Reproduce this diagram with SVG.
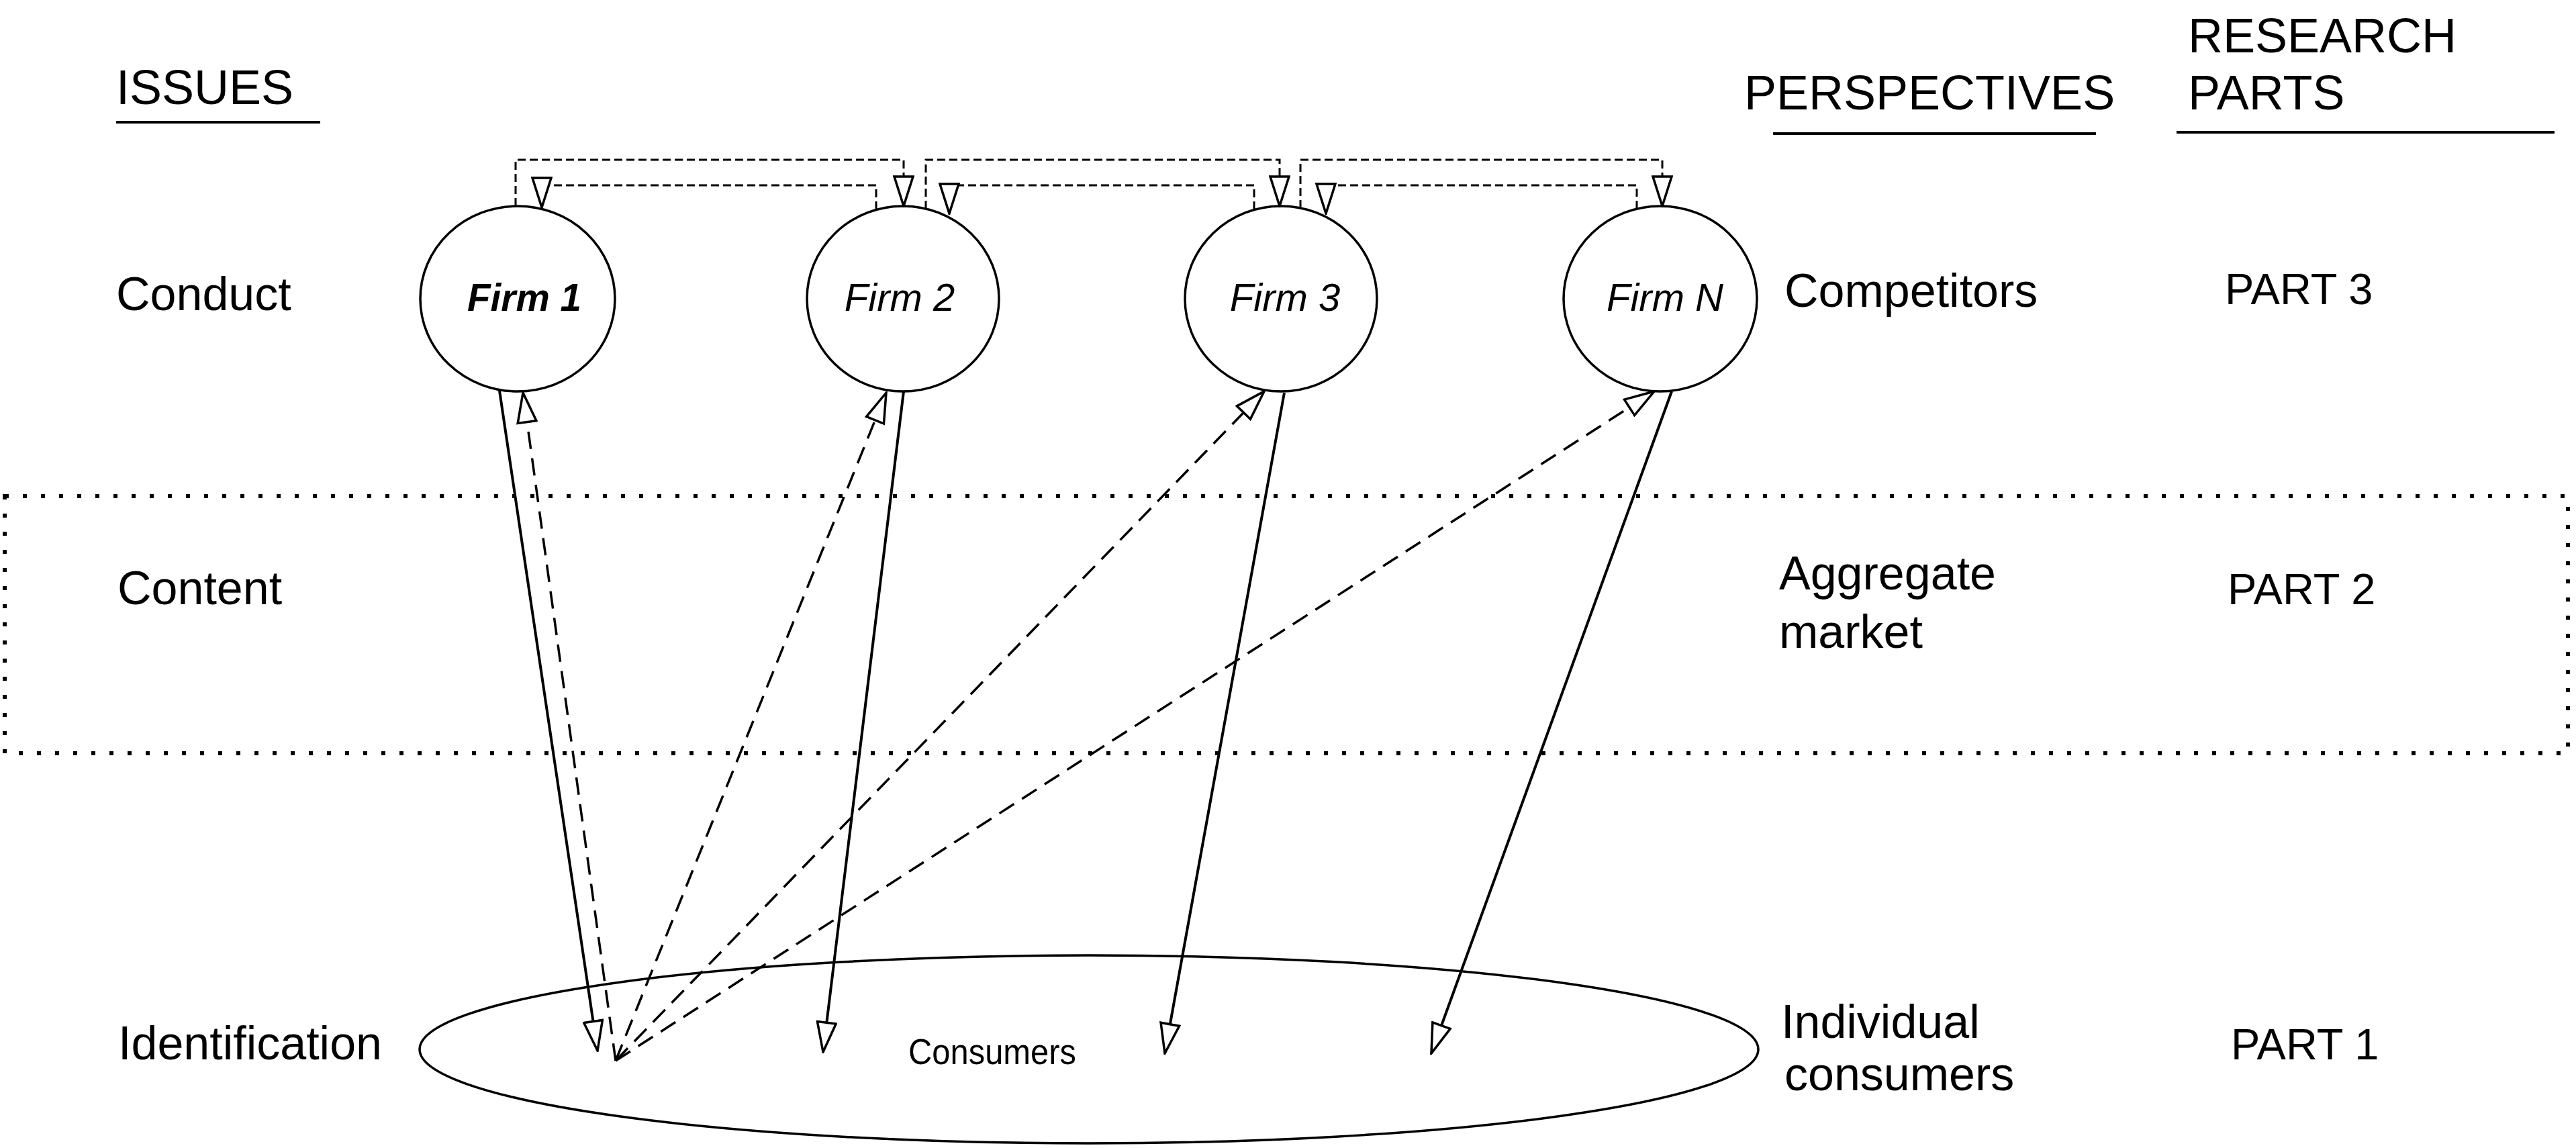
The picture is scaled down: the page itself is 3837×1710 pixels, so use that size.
<svg xmlns="http://www.w3.org/2000/svg" width="3837" height="1710" viewBox="0 0 3837 1710">
  <style>
    .lbl { font-family: "Liberation Sans", Arial, sans-serif; fill: #000; }
    .hdr { font-size: 72px; }
    .row { font-size: 70px; }
    .part { font-size: 65px; }
    .firm { font-family: "Liberation Sans", Arial, sans-serif; font-size: 58px; font-style: italic; text-anchor: middle; }
    .node { fill: #fff; stroke: #000; stroke-width: 3.5; }
    .rule { stroke: #000; stroke-width: 4; fill: none; }
    .band { fill: none; stroke: #000; stroke-width: 6; stroke-dasharray: 6 21; }
    .flow { fill: none; stroke: #000; stroke-width: 4; marker-end: url(#head); }
    .back { fill: none; stroke: #000; stroke-width: 3.5; stroke-dasharray: 26 14; marker-end: url(#head); }
    .rival { fill: none; stroke: #000; stroke-width: 3; stroke-dasharray: 12 6; marker-end: url(#head); }
  </style>
  <defs>
    <marker id="head" viewBox="0 0 48 32" refX="46" refY="16" markerWidth="48" markerHeight="32" markerUnits="userSpaceOnUse" orient="auto">
      <path d="M2,2 L46,16 L2,30 Z" fill="#fff" stroke="#000" stroke-width="3.5" stroke-dasharray="none" stroke-linejoin="miter"/>
    </marker>
  </defs>
  <rect width="3837" height="1710" fill="#fff"/>

  <!-- column headings -->
  <g id="headings">
    <text class="lbl hdr" x="173" y="155">ISSUES</text>
    <line class="rule" x1="173" y1="182" x2="477" y2="182"/>
    <text class="lbl hdr" x="2598" y="163">PERSPECTIVES</text>
    <line class="rule" x1="2641" y1="199" x2="3122" y2="199"/>
    <text class="lbl hdr" x="3259" y="78">RESEARCH</text>
    <text class="lbl hdr" x="3259" y="163">PARTS</text>
    <line class="rule" x1="3242" y1="197" x2="3805" y2="197"/>
  </g>

  <!-- middle band: aggregate market level -->
  <rect id="market-band" class="band" x="7" y="739" width="3818" height="383"/>

  <!-- row labels -->
  <g id="issues">
    <text class="lbl row" x="173" y="462">Conduct</text>
    <text class="lbl row" x="175" y="900">Content</text>
    <text class="lbl row" x="176" y="1578">Identification</text>
  </g>
  <g id="perspectives">
    <text class="lbl row" x="2658" y="457" font-size="69">Competitors</text>
    <text class="lbl row" x="2650" y="878">Aggregate</text>
    <text class="lbl row" x="2650" y="965">market</text>
    <text class="lbl row" x="2653" y="1546">Individual</text>
    <text class="lbl row" x="2658" y="1624">consumers</text>
  </g>
  <g id="parts">
    <text class="lbl part" x="3314" y="453">PART 3</text>
    <text class="lbl part" x="3318" y="900">PART 2</text>
    <text class="lbl part" x="3323" y="1578">PART 1</text>
  </g>

  <!-- consumers -->
  <g id="consumers">
    <ellipse class="node" cx="1622" cy="1563" rx="997" ry="140" stroke-width="4"/>
    <text class="lbl" x="1353" y="1585" font-size="54" textLength="250" lengthAdjust="spacingAndGlyphs">Consumers</text>
  </g>

  <!-- firms -->
  <g id="firm-1">
    <ellipse class="node" cx="771" cy="445" rx="145" ry="138"/>
    <text class="firm" x="781" y="463" font-weight="bold" textLength="170" lengthAdjust="spacingAndGlyphs">Firm 1</text>
  </g>
  <g id="firm-2">
    <ellipse class="node" cx="1345" cy="445" rx="143" ry="138"/>
    <text class="firm" x="1340" y="463">Firm 2</text>
  </g>
  <g id="firm-3">
    <ellipse class="node" cx="1908" cy="445" rx="143" ry="138"/>
    <text class="firm" x="1914" y="463">Firm 3</text>
  </g>
  <g id="firm-n">
    <ellipse class="node" cx="2473" cy="445" rx="144" ry="138"/>
    <text class="firm" x="2480" y="463">Firm N</text>
  </g>

  <g id="connectors">
    <!-- firm to firm -->
    <path class="rival" d="M768,307 V238 H1346 V307"/>
    <path class="rival" d="M1305,312 V276 H807 V309"/>
    <path class="rival" d="M1379,311 V238 H1906 V307"/>
    <path class="rival" d="M1868,312 V276 H1414 V318"/>
    <path class="rival" d="M1937,310 V238 H2476 V307"/>
    <path class="rival" d="M2438,311 V276 H1975 V318"/>
    <!-- firms to consumers -->
    <path class="flow" d="M744,582 L890,1565"/>
    <path class="flow" d="M1346,583 L1226,1567"/>
    <path class="flow" d="M1913,585 L1735,1569"/>
    <path class="flow" d="M2490,583 L2132,1569"/>
    <!-- consumers back to firms -->
    <path class="back" d="M917,1580 L779,585"/>
    <path class="back" d="M917,1580 L1320,585"/>
    <path class="back" d="M917,1580 L1883,583"/>
    <path class="back" d="M917,1580 L2464,583"/>
  </g>
</svg>
